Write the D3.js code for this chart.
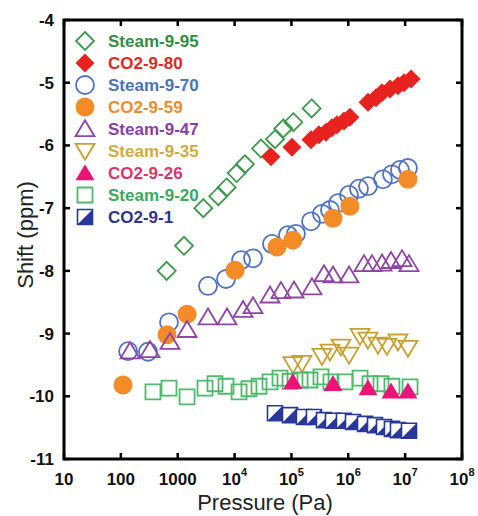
<!DOCTYPE html>
<html><head><meta charset="utf-8">
<script src="https://cdn.jsdelivr.net/npm/d3@7"></script>
<style>body{margin:0;background:#fff}svg{display:block}text{font-family:"Liberation Sans",Arial,sans-serif}</style>
</head><body>
<svg id="c" width="478" height="516"></svg>
<script>
// ---- data ----
const steam995P = [640,1290,2820,5170,7260,10900,15200,29200,51400,71900,108000,227000];
const steam995V = [-8.0,-7.6,-7.0,-6.81,-6.67,-6.44,-6.30,-6.05,-5.90,-5.73,-5.63,-5.41];
const co2980P = [43600,102000,221000,305000,405000,516000,632000,840000,1.07e6,2.22e6,3.07e6,3.91e6,5.41e6,7.48e6,9.55e6,1.27e7];
const co2980V = [-6.18,-6.03,-5.91,-5.83,-5.79,-5.72,-5.67,-5.61,-5.55,-5.31,-5.24,-5.16,-5.10,-5.05,-5.00,-4.94];
const steam970P = [134,300,703,3410,7070,13000,21100,45500,86900,120000,221000,345000,476000,659000,1.03e6,1.54e6,2.22e6,4.07e6,5.86e6,8.11e6,1.12e7];
const steam970V = [-9.28,-9.29,-8.82,-8.24,-8.13,-7.83,-7.80,-7.57,-7.43,-7.41,-7.21,-7.09,-7.03,-6.92,-6.79,-6.69,-6.65,-6.54,-6.46,-6.39,-6.36];
const co2959P = [109,648,1460,10200,55700,106000,538000,1.07e6,1.12e7];
const co2959V = [-9.82,-9.02,-8.69,-7.99,-7.62,-7.51,-7.16,-6.97,-6.54];
const steam947P = [145,325,731,1460,3410,7360,14100,21100,42000,65500,111000,230000,374000,538000,1.03e6,1.89e6,2.61e6,3.92e6,5.64e6,8.8e6,1.17e7];
const steam947V = [-9.28,-9.26,-9.13,-8.94,-8.74,-8.74,-8.62,-8.56,-8.39,-8.32,-8.31,-8.26,-8.05,-8.07,-8.07,-7.89,-7.89,-7.88,-7.84,-7.81,-7.89];
const steam935P = [106000,153000,345000,476000,743000,1.03e6,1.61e6,2.22e6,3.33e6,4.79e6,7.48e6,1.12e7];
const steam935V = [-9.49,-9.47,-9.36,-9.29,-9.21,-9.34,-9.04,-9.10,-9.18,-9.20,-9.13,-9.23];
const co2926P = [106000,538000,2.22e6,5.64e6,1.12e7];
const co2926V = [-9.77,-9.80,-9.87,-9.92,-9.92];
const steam920P = [367,703,1460,3020,4530,7070,12000,17900,26900,42000,63000,94400,142000,212000,331000,496000,875000,1.61e6,2.41e6,3.76e6,5.86e6,1.22e7];
const steam920V = [-9.93,-9.87,-10.01,-9.87,-9.80,-9.84,-9.93,-9.88,-9.84,-9.77,-9.71,-9.76,-9.74,-9.74,-9.69,-9.77,-9.77,-9.71,-9.80,-9.80,-9.84,-9.85];
const co291P = [51400,94400,166000,249000,374000,538000,840000,1.21e6,1.97e6,2.95e6,4.25e6,5.86e6,7.48e6,1.17e7];
const co291V = [-10.27,-10.30,-10.33,-10.33,-10.38,-10.39,-10.39,-10.41,-10.44,-10.46,-10.49,-10.52,-10.54,-10.55];

const xTicks = [10,100,1000,1e4,1e5,1e6,1e7,1e8];
const yTicks = [-4,-5,-6,-7,-8,-9,-10,-11];

const series = [
  {name:"Steam-9-95", P:steam995P, V:steam995V, shape:"diamond", fill:false, color:"#3b9a4c", text:"#2f8f44"},
  {name:"CO2-9-80",  P:co2980P,  V:co2980V,  shape:"diamond", fill:true,  color:"#e8231f", text:"#e3281f"},
  {name:"Steam-9-70", P:steam970P, V:steam970V, shape:"circle", fill:false, color:"#5272c2", text:"#4a73b9"},
  {name:"CO2-9-59",  P:co2959P,  V:co2959V,  shape:"circle", fill:true,  color:"#f38b27", text:"#ef8a30"},
  {name:"Steam-9-47", P:steam947P, V:steam947V, shape:"triUp", fill:false, color:"#8f45a7", text:"#8a3fa6"},
  {name:"Steam-9-35", P:steam935P, V:steam935V, shape:"triDown", fill:false, color:"#c9a030", text:"#d2aa3e"},
  {name:"CO2-9-26",  P:co2926P,  V:co2926V,  shape:"triUp", fill:true,  color:"#ea1479", text:"#e0336b"},
  {name:"Steam-9-20", P:steam920P, V:steam920V, shape:"square", fill:false, color:"#4fba6c", text:"#3aaa5c"},
  {name:"CO2-9-1",   P:co291P,   V:co291V,   shape:"half", fill:true, color:"#27389a", text:"#2a3590"}
];
const drawOrder = [0,1,2,3,4,5,7,6,8];

// ---- layout ----
const svg = d3.select("#c");
const L=64,R=462,T=20,B=459;
const x = d3.scaleLog().domain([10,1e8]).range([L,R]);
const y = d3.scaleLinear().domain([-11,-4]).range([B,T]);

function shapePath(shape, cx, cy, filled){
  const p = d3.path();
  if(shape==="diamond"){ const s=filled?9.5:9; p.moveTo(cx,cy-s);p.lineTo(cx+s,cy);p.lineTo(cx,cy+s);p.lineTo(cx-s,cy);p.closePath(); }
  else if(shape==="circle"){ p.arc(cx,cy,filled?9.5:9,0,2*Math.PI); }
  else if(shape==="triUp"){ const w=9.5,h=16; p.moveTo(cx,cy-h*0.55);p.lineTo(cx+w,cy+h*0.45);p.lineTo(cx-w,cy+h*0.45);p.closePath(); }
  else if(shape==="triDown"){ const w=9.5,h=16; p.moveTo(cx,cy+h*0.55);p.lineTo(cx+w,cy-h*0.45);p.lineTo(cx-w,cy-h*0.45);p.closePath(); }
  else if(shape==="square"){ const s=7.5; p.rect(cx-s,cy-s,2*s,2*s); }
  else if(shape==="half"){ const s=7.5; p.rect(cx-s,cy-s,2*s,2*s); }
  return p.toString();
}
function drawMarker(g, sr, cx, cy){
  if(sr.shape==="half"){
    const s=7.5;
    g.append("path").attr("d",shapePath("half",cx,cy)).attr("fill","#fff").attr("stroke",sr.color).attr("stroke-width",1.6);
    g.append("path").attr("d",`M${cx-s},${cy+s}L${cx+s},${cy-s}L${cx+s},${cy+s}Z`).attr("fill",sr.color);
  } else if(sr.fill){
    g.append("path").attr("d",shapePath(sr.shape,cx,cy,true)).attr("fill",sr.color).attr("stroke","none");
  } else {
    g.append("path").attr("d",shapePath(sr.shape,cx,cy,false)).attr("fill","none").attr("stroke",sr.color).attr("stroke-width",1.8);
  }
}

// data
const gData = svg.append("g");
drawOrder.forEach(i=>{
  const sr = series[i];
  const g = gData.append("g");
  sr.P.forEach((pv,j)=>drawMarker(g, sr, x(pv), y(sr.V[j])));
});

// axes (inward ticks, all four sides)
const tl = 6;
const ax = svg.append("g");
xTicks.forEach(t=>{
  ax.append("line").attr("x1",x(t)).attr("x2",x(t)).attr("y1",B).attr("y2",B-tl).attr("stroke","#000").attr("stroke-width",2.5);
  ax.append("line").attr("x1",x(t)).attr("x2",x(t)).attr("y1",T).attr("y2",T+tl).attr("stroke","#000").attr("stroke-width",2.5);
});
yTicks.forEach(t=>{
  ax.append("line").attr("x1",L).attr("x2",L+tl).attr("y1",y(t)).attr("y2",y(t)).attr("stroke","#000").attr("stroke-width",2.5);
  ax.append("line").attr("x1",R).attr("x2",R-tl).attr("y1",y(t)).attr("y2",y(t)).attr("stroke","#000").attr("stroke-width",2.5);
});
ax.append("rect").attr("x",L).attr("y",T).attr("width",R-L).attr("height",B-T).attr("fill","none").attr("stroke","#000").attr("stroke-width",3);

// x tick labels
xTicks.forEach(t=>{
  const e = Math.round(Math.log10(t));
  const tx = svg.append("text").attr("x",x(t)).attr("y",485).attr("text-anchor","middle")
    .attr("font-size",17).attr("font-weight","bold").attr("fill","#111");
  if(e<=3){ tx.text(String(t)); }
  else {
    tx.append("tspan").text("10");
    tx.append("tspan").attr("dy",-9).attr("font-size",11).text(String(e));
  }
});
// y tick labels
yTicks.forEach(t=>{
  svg.append("text").attr("x",54).attr("y",y(t)+6).attr("text-anchor","end")
    .attr("font-size",17).attr("font-weight","bold").attr("fill","#111").text(String(t));
});
// titles
svg.append("text").attr("x",265).attr("y",510).attr("text-anchor","middle").attr("font-size",22).attr("fill","#222").text("Pressure (Pa)");
svg.append("text").attr("transform","translate(33,235) rotate(-90)").attr("text-anchor","middle").attr("font-size",22).attr("fill","#222").text("Shift (ppm)");

// legend
const lg = svg.append("g");
series.forEach((sr,i)=>{
  const cy = 41 + i*22;
  drawMarker(lg, sr, 85, cy);
  lg.append("text").attr("x",108).attr("y",cy+6).attr("font-size",17).attr("font-weight","bold").attr("fill",sr.text).text(sr.name);
});
</script>
</body></html>
